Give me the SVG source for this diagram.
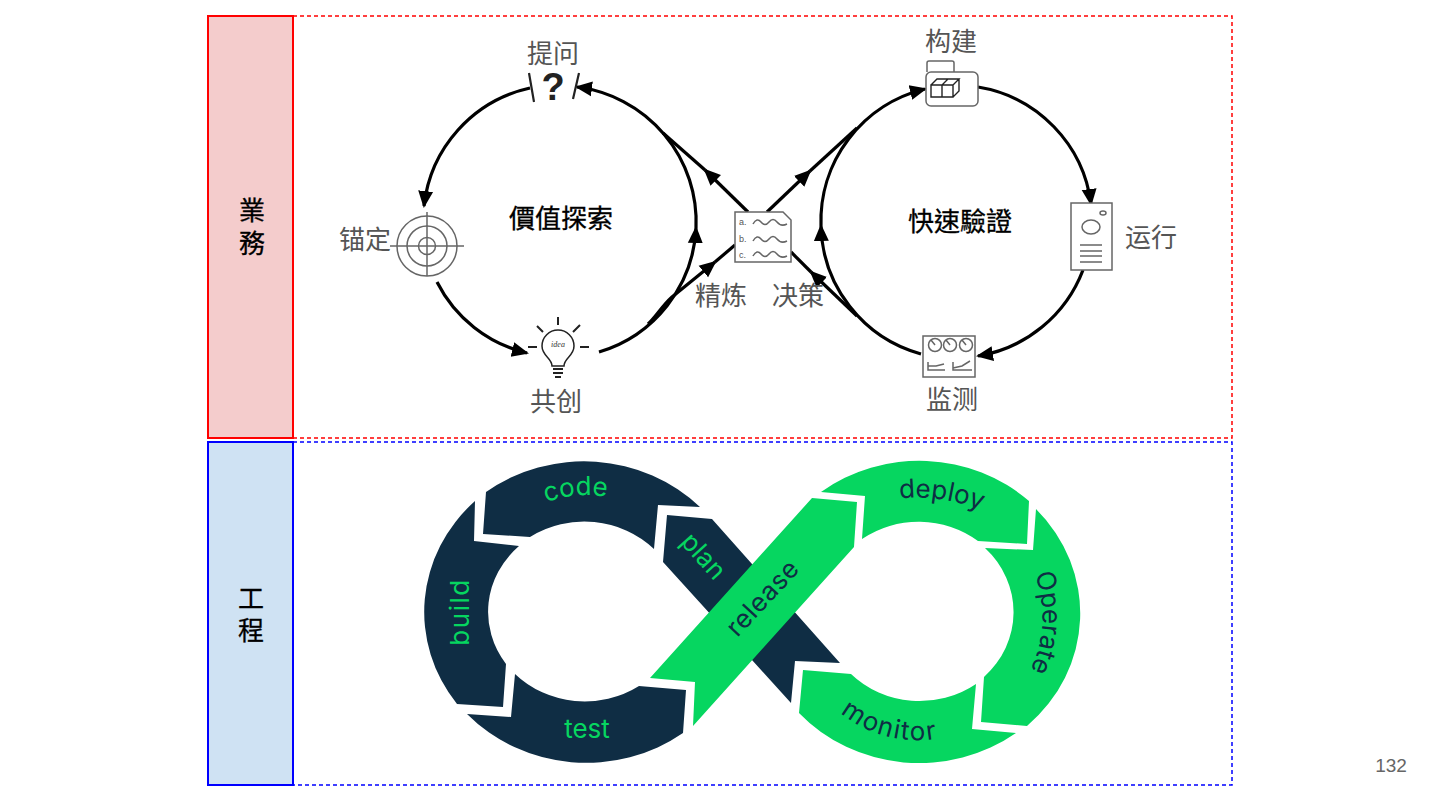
<svg xmlns="http://www.w3.org/2000/svg" width="1440" height="810" viewBox="0 0 1440 810">
<style>
.bar{stroke-width:2}
.dash{fill:none;stroke-width:1.5;stroke-dasharray:4 3}
.conn{fill:none;stroke:#000;stroke-width:3.2}
.ico{fill:none;stroke:#666;stroke-width:1.5}
.icok{fill:none;stroke:#222;stroke-width:2.2}
.lbl{font-family:"Liberation Sans","Noto Sans CJK SC","Noto Sans CJK TC",sans-serif;font-size:26px;fill:#555;text-anchor:middle}
.ttl{font-family:"Liberation Sans","Noto Sans CJK TC","Noto Sans CJK SC",sans-serif;font-size:26px;fill:#000;stroke:#000;stroke-width:.3;text-anchor:middle}
.ring{font-family:Inter,"Open Sans",sans-serif;font-size:26px;text-anchor:middle}
.dk{fill:#0f2d44}
.gr{fill:#06d660}
</style>
<defs>
<marker id="arr" markerUnits="userSpaceOnUse" markerWidth="20" markerHeight="18" viewBox="0 0 20 18" refX="15" refY="9" orient="auto"><path d="M0,1.5L17,9L0,16.5z" fill="#000"/></marker>
<path id="pCode" d="M541,504A120 120 0 0 1 612,498"/>
<path id="pDeploy" d="M895,499A140 113 0 0 1 985,512"/>
<path id="pOperate" d="M1031,566A120 120 0 0 1 1026,678"/>
<path id="pMonitor" d="M838,711A125 128 0 0 0 941,738"/>
</defs>
<g id="panel-business">
<rect class="bar" x="208" y="16" width="85" height="422" fill="#f4cccc" stroke="#f00"/>
<rect class="dash" x="293" y="16" width="939" height="422" stroke="#f00"/>
<text class="ttl"><tspan x="252" y="220">業</tspan><tspan x="252" y="253">務</tspan></text>
</g>
<g id="panel-engineering">
<rect class="bar" x="208" y="442" width="85" height="343" fill="#cfe2f3" stroke="#00f"/>
<rect class="dash" x="293" y="442" width="939" height="343" stroke="#00f"/>
<text class="ttl"><tspan x="251" y="608">工</tspan><tspan x="251" y="640">程</tspan></text>
</g>
<g id="connectors">
<path class="conn" marker-end="url(#arr)" d="M530,88A136 136 0 0 0 424,206"/>
<path class="conn" marker-end="url(#arr)" d="M437,282A136 136 0 0 0 527,353"/>
<path class="conn" marker-end="url(#arr)" d="M599,352A136 136 0 0 0 696,228"/>
<path class="conn" marker-end="url(#arr)" d="M696,228A136 136 0 0 0 577,87"/>
<path class="conn" marker-end="url(#arr)" d="M748,212L705,170"/>
<path class="conn" d="M705,170L663,133"/>
<path class="conn" marker-end="url(#arr)" d="M648,324C655,318 662,306 672,297L715,262"/>
<path class="conn" d="M715,262L735,245"/>
<path class="conn" marker-end="url(#arr)" d="M978,87A136 136 0 0 1 1091,204"/>
<path class="conn" marker-end="url(#arr)" d="M1083,270A136 136 0 0 1 978,356"/>
<path class="conn" marker-end="url(#arr)" d="M921,354A136 136 0 0 1 821,226"/>
<path class="conn" marker-end="url(#arr)" d="M821,226A136 136 0 0 1 925,89"/>
<path class="conn" marker-end="url(#arr)" d="M767,212L810,171"/>
<path class="conn" d="M810,171L857,128"/>
<path class="conn" marker-end="url(#arr)" d="M857,316L811,272"/>
<path class="conn" d="M811,272L791,252"/>
</g>
<g id="node-ask">
<path class="icok" d="M529,73L534,102M579,73L573,99"/>
<text x="553" y="100" font-family="'Liberation Sans',sans-serif" font-size="38" font-weight="700" fill="#222" text-anchor="middle">?</text>
<text class="lbl" x="553" y="63">提问</text>
</g>
<g id="node-anchor">
<circle class="ico" cx="427" cy="246" r="30"/><circle class="ico" cx="427" cy="246" r="20"/><circle class="ico" cx="427" cy="246" r="8.5"/>
<path class="ico" d="M390,246H464M427,212V276"/>
<text class="lbl" x="365" y="249">锚定</text>
</g>
<g id="node-ideate">
<path class="icok" style="stroke-width:1.5" d="M552,366C552,358 542,356 542,346A16 16 0 0 1 574,346C574,356 564,358 564,366Z"/>
<path class="icok" style="stroke-width:2" d="M553,369H563M553,373H563M555,377H561M558,317V325M537,326L543,332M580,325L573,332M528,347H537M580,347H589"/>
<text x="558" y="347" font-family="'Liberation Serif',serif" font-style="italic" font-size="8" fill="#333" text-anchor="middle">idea</text>
<text class="lbl" x="556" y="411">共创</text>
</g>
<g id="node-build">
<path class="ico" d="M927,72V63Q927,61 929,61H952Q954,61 954,63V72"/>
<rect x="926" y="72" width="52" height="34" rx="5" fill="#fff" stroke="#666" stroke-width="1.5"/>
<path class="icok" style="stroke-width:1.4" d="M931,85H953V97H931ZM942,85V97M931,85L937,79H959L953,85M948,79L942,85M959,79V91L953,97"/>
<text class="lbl" x="951" y="51">构建</text>
</g>
<g id="node-run">
<rect x="1071" y="203" width="41" height="67" fill="#fff" stroke="#666" stroke-width="1.5"/>
<ellipse class="ico" cx="1091" cy="227" rx="9" ry="7"/><ellipse class="ico" cx="1103" cy="213" rx="3" ry="2"/>
<path class="ico" d="M1080,245H1102M1080,251H1102M1080,256H1102M1080,262H1102"/>
<text class="lbl" x="1151" y="247">运行</text>
</g>
<g id="node-monitor">
<rect x="923" y="336" width="52" height="41" fill="#fff" stroke="#666" stroke-width="1.5"/>
<circle class="ico" cx="935" cy="345" r="6.5"/><circle class="ico" cx="950" cy="345" r="6.5"/><circle class="ico" cx="966" cy="345" r="6.5"/>
<path class="ico" d="M935,345L931,340M950,345L946,340M966,345L962,340M928,362V370H945M928,366H936L944,364M953,362V370H972M953,368L962,366L970,361"/>
<text class="lbl" x="952" y="409">监测</text>
</g>
<g id="node-decide">
<path d="M735,212H783L791,220V262H735Z" fill="#fff" stroke="#666" stroke-width="1.5"/>
<g font-family="'Liberation Sans',sans-serif" font-size="9" fill="#555"><text x="739" y="225">a.</text><text x="739" y="242">b.</text><text x="739" y="258">c.</text></g>
<path class="ico" d="M753,224Q757,217 761,222T769,222T777,222T787,224M753,241Q757,234 761,239T769,239T777,239T787,241M753,256Q757,249 761,254T769,254T777,254T787,256"/>
<text class="lbl" x="721" y="305">精炼</text>
<text class="lbl" x="798" y="305">决策</text>
</g>
<text class="ttl" x="561" y="228">價值探索</text>
<text class="ttl" x="960" y="231">快速驗證</text>
<g id="ring-plan"><path class="dk" d="M667,515L712,519L840,663L795,661L791,703L663,562Z"/><text class="ring gr" transform="translate(697,562) rotate(48)">plan</text></g>
<g id="ring-code"><path class="dk" d="M486,492A163 153 0 0 1 700,507L658,505L654,549A97 90 0 0 0 530,537L483,534Z"/><text class="ring gr"><textPath href="#pCode" startOffset="50%">code</textPath></text></g>
<g id="ring-build"><path class="dk" d="M475,501L474,541L519,546A97 90 0 0 0 506,664L503,707L457,704A163 153 0 0 1 475,501Z"/><text class="ring gr" style="letter-spacing:1.5px" transform="translate(469,612) rotate(-90)">build</text></g>
<g id="ring-test"><path class="dk" d="M467,714L511,717L515,674A97 90 0 0 0 639,686L686,690L683,733A163 153 0 0 1 467,714Z"/><text class="ring gr" x="587" y="738">test</text></g>
<g id="ring-release"><path class="gr" d="M812,498L857,502L854,547L693,726L695,682L650,678Z"/><text class="ring dk" style="letter-spacing:.5px" transform="translate(769,604) rotate(-47)">release</text></g>
<g id="ring-deploy"><path class="gr" d="M821,492A162 152 0 0 1 1029,501L1027,544L978,541A96 90 0 0 0 862,539L865,496Z"/><text class="ring dk"><textPath href="#pDeploy" startOffset="50%">deploy</textPath></text></g>
<g id="ring-operate"><path class="gr" d="M1036,509L1033,550L985,548A96 90 0 0 1 984,677L981,722L1027,726A162 152 0 0 0 1036,509Z"/><text class="ring dk"><textPath href="#pOperate" startOffset="50%">Operate</textPath></text></g>
<g id="ring-monitor"><path class="gr" d="M1016,733L972,729L976,684A96 90 0 0 1 851,674L803,670L799,713A162 152 0 0 0 1016,733Z"/><text class="ring dk" style="letter-spacing:1.5px"><textPath href="#pMonitor" startOffset="50%">monitor</textPath></text></g>
<text x="1391" y="772" font-family="'Liberation Sans',sans-serif" font-size="19" fill="#666" text-anchor="middle">132</text>
</svg>
